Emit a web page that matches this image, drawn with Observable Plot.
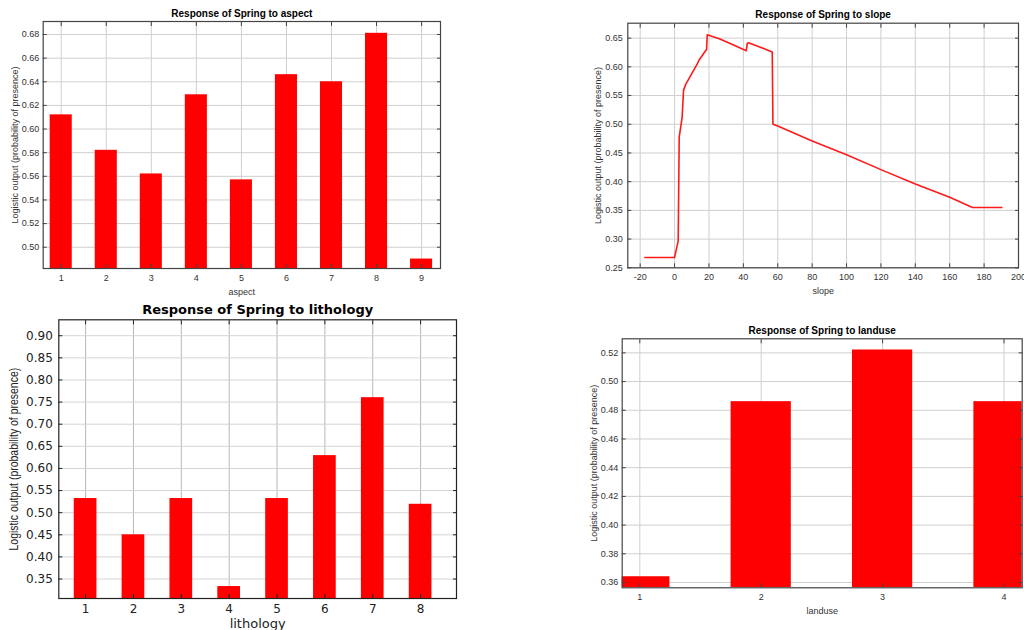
<!DOCTYPE html>
<html>
<head>
<meta charset="utf-8">
<script src="https://cdn.jsdelivr.net/npm/d3@7"></script>
<script src="https://cdn.jsdelivr.net/npm/@observablehq/plot@0.6"></script>
<style>
  html, body { margin: 0; padding: 0; background: #fff; }
  #root { position: relative; width: 1024px; height: 630px; overflow: hidden; background: #fff; }
  .panel { position: absolute; }
</style>
</head>
<body>
<div id="root"></div>
<script>
// ---------- data ----------
const yLabel = "Logistic output (probability of presence)";

const aspectCats = [1, 2, 3, 4, 5, 6, 7, 8, 9];
const aspectValues = [0.612, 0.582, 0.562, 0.629, 0.557, 0.646, 0.640, 0.681, 0.490];
const aspectYTicks = [0.50, 0.52, 0.54, 0.56, 0.58, 0.60, 0.62, 0.64, 0.66, 0.68];

const slopeX = [-17.3, 0, 2.1, 2.7, 4.4, 5.2, 6.4, 10, 13.2, 14.1, 18.0, 18.6, 19.0, 26, 32, 41.7, 42.3, 43, 56.8, 57.2, 60, 80, 100, 120, 140, 160, 173.2, 190.3];
const slopeY = [0.268, 0.268, 0.297, 0.478, 0.512, 0.559, 0.569, 0.588, 0.605, 0.611, 0.628, 0.630, 0.656, 0.649, 0.641, 0.628, 0.641, 0.642, 0.626, 0.500, 0.497, 0.471, 0.447, 0.421, 0.396, 0.373, 0.355, 0.355];
const slopeXTicks = [-20, 0, 20, 40, 60, 80, 100, 120, 140, 160, 180, 200];
const slopeYTicks = [0.25, 0.30, 0.35, 0.40, 0.45, 0.50, 0.55, 0.60, 0.65];

const lithoCats = [1, 2, 3, 4, 5, 6, 7, 8];
const lithoValues = [0.532, 0.450, 0.532, 0.333, 0.532, 0.629, 0.760, 0.519];
const lithoYTicks = [0.35, 0.40, 0.45, 0.50, 0.55, 0.60, 0.65, 0.70, 0.75, 0.80, 0.85, 0.90];

const landuseCats = [1, 2, 3, 4];
const landuseValues = [0.364, 0.486, 0.522, 0.486];
const landuseYTicks = [0.36, 0.38, 0.40, 0.42, 0.44, 0.46, 0.48, 0.50, 0.52];

// ---------- helpers ----------
const root = document.getElementById("root");
function place(svg, left, top) {
  const d = document.createElement("div");
  d.className = "panel";
  d.style.left = left + "px";
  d.style.top = top + "px";
  d.appendChild(svg);
  root.appendChild(d);
  return svg;
}
const f2 = d3.format(".2f");
const small = {fontFamily: "'Liberation Sans', Arial, sans-serif", fontSize: "9px", color: "#333", background: "transparent", overflow: "visible"};

function framedChart(cfg) {
  const {width, height, margins, xDomain, yDomain, xTicks, yTicks, xFmt, yFmt, marks,
    title, xLabel, titleDy, xLabelDy, yLabelDx, style, gridColor, gridXColor, frameColor,
    xPad, yPad, titleFont, labelFont, yLabelFont} = cfg;
  return Plot.plot({
    width, height,
    marginLeft: margins[0], marginRight: margins[1], marginTop: margins[2], marginBottom: margins[3],
    style,
    x: {domain: xDomain, ticks: xTicks},
    y: {domain: yDomain, ticks: yTicks},
    marks: [
      Plot.frame({fill: "white"}),
      Plot.gridX(xTicks, {stroke: gridXColor || gridColor, strokeOpacity: 1}),
      Plot.gridY(yTicks, {stroke: gridColor, strokeOpacity: 1}),
      ...marks,
      Plot.axisX(xTicks, {anchor: "bottom", tickSize: 0, tickPadding: xPad, tickFormat: xFmt, label: null, fill: style.color}),
      Plot.axisY(yTicks, {anchor: "left", tickSize: 0, tickPadding: yPad, tickFormat: yFmt, label: null, fill: style.color}),
      Plot.axisX(xTicks, {anchor: "bottom", tickSize: -4, fill: "none", label: null, stroke: frameColor}),
      Plot.axisX(xTicks, {anchor: "top", tickSize: -4, fill: "none", label: null, stroke: frameColor}),
      Plot.axisY(yTicks, {anchor: "left", tickSize: -4, fill: "none", label: null, stroke: frameColor}),
      Plot.axisY(yTicks, {anchor: "right", tickSize: -4, fill: "none", label: null, stroke: frameColor}),
      Plot.frame({stroke: frameColor, strokeWidth: 1.2}),
      Plot.text([title], {text: d => d, frameAnchor: "top", lineAnchor: "middle", textAnchor: "middle", dy: titleDy, fill: "#000", fontWeight: "bold", ...titleFont}),
      Plot.text([xLabel], {text: d => d, frameAnchor: "bottom", lineAnchor: "middle", textAnchor: "middle", dy: xLabelDy, fill: style.color, ...labelFont}),
      Plot.text([yLabel], {text: d => d, frameAnchor: "left", lineAnchor: "middle", textAnchor: "middle", dx: yLabelDx, rotate: -90, fill: style.color, ...yLabelFont})
    ]
  });
}

// ---------- panel 1: aspect ----------
const aspectData = aspectCats.map((c, i) => ({c, v: aspectValues[i]}));
const aYMin = 0.482;
place(framedChart({
  width: 460, height: 300, margins: [42.7, 20, 21, 32],
  xDomain: [0.6, 9.42], yDomain: [aYMin, 0.691],
  xTicks: aspectCats, yTicks: aspectYTicks, xFmt: d => String(d), yFmt: f2,
  marks: [Plot.rectY(aspectData, {x1: d => d.c - 0.245, x2: d => d.c + 0.245, y1: () => aYMin, y2: "v", fill: "#ff0000", clip: true})],
  title: "Response of Spring to aspect", xLabel: "aspect",
  titleDy: -8, xLabelDy: 24, yLabelDx: -28,
  style: small, gridColor: "#cfcfcf", frameColor: "#444", xPad: 6, yPad: 4,
  titleFont: {fontSize: 10}, labelFont: {fontSize: 9}, yLabelFont: {fontSize: 9}
}), 0, 0);

// ---------- panel 2: slope ----------
const slopeData = slopeX.map((x, i) => ({x, y: slopeY[i]}));
place(framedChart({
  width: 444, height: 300, margins: [47.3, 6, 22.7, 32.7],
  xDomain: [-27.2, 200], yDomain: [0.25, 0.676],
  xTicks: slopeXTicks, yTicks: slopeYTicks, xFmt: d => String(d), yFmt: f2,
  marks: [Plot.line(slopeData, {x: "x", y: "y", stroke: "#ff1a1a", strokeWidth: 1.6, curve: "linear"})],
  title: "Response of Spring to slope", xLabel: "slope",
  titleDy: -8, xLabelDy: 23, yLabelDx: -29.5,
  style: small, gridColor: "#cfcfcf", frameColor: "#444", xPad: 5.5, yPad: 5,
  titleFont: {fontSize: 10}, labelFont: {fontSize: 9}, yLabelFont: {fontSize: 9}
}), 580, 0);

// ---------- panel 3: lithology ----------
const lithoData = lithoCats.map((c, i) => ({c, v: lithoValues[i]}));
const lYMin = 0.306;
const lithoSvg = place(framedChart({
  width: 470, height: 335, margins: [58.3, 14, 24.3, 32],
  xDomain: [0.44, 8.75], yDomain: [lYMin, 0.936],
  xTicks: lithoCats, yTicks: lithoYTicks, xFmt: d => String(d), yFmt: f2,
  marks: [Plot.rectY(lithoData, {x1: d => d.c - 0.237, x2: d => d.c + 0.237, y1: () => lYMin, y2: "v", fill: "#ff0000", clip: true})],
  title: "Response of Spring to lithology", xLabel: "lithology",
  titleDy: -9.5, xLabelDy: 25, yLabelDx: -45,
  style: {fontFamily: "'DejaVu Sans', Verdana, sans-serif", fontSize: "12px", color: "#222", background: "transparent", overflow: "visible"},
  gridColor: "#d4d4d4", gridXColor: "#b8b8b8", frameColor: "#222", xPad: 6, yPad: 6,
  titleFont: {fontSize: 13}, labelFont: {fontSize: 13},
  yLabelFont: {fontSize: 12, fontFamily: "'Liberation Sans Narrow', 'Arial Narrow', 'Liberation Sans', sans-serif"}
}), 0, 295);
// condense the rotated y label to the narrow look of the original
d3.select(lithoSvg).selectAll("text").filter(function () { return this.textContent === yLabel; })
  .each(function () {
    const len = this.getComputedTextLength ? this.getComputedTextLength() : 0;
    if (len > 190) {
      const k = 183 / len;
      const t = this.getAttribute("transform") || "";
      this.setAttribute("transform", t + ` scale(${k},1)`);
    }
  });

// ---------- panel 4: landuse ----------
const landuseData = landuseCats.map((c, i) => ({c, v: landuseValues[i]}));
const uYMin = 0.3563;
place(framedChart({
  width: 444, height: 315, margins: [41.7, 2.3, 23.3, 42.7],
  xDomain: [0.855, 4.15], yDomain: [uYMin, 0.5298],
  xTicks: landuseCats, yTicks: landuseYTicks, xFmt: d => String(d), yFmt: f2,
  marks: [Plot.rectY(landuseData, {x1: d => d.c - 0.248, x2: d => d.c + 0.248, y1: () => uYMin, y2: "v", fill: "#ff0000", clip: true})],
  title: "Response of Spring to landuse", xLabel: "landuse",
  titleDy: -8.3, xLabelDy: 23.4, yLabelDx: -28,
  style: small, gridColor: "#cfcfcf", frameColor: "#444", xPad: 6, yPad: 4,
  titleFont: {fontSize: 10}, labelFont: {fontSize: 9}, yLabelFont: {fontSize: 9}
}), 580, 315);
</script>
</body>
</html>
